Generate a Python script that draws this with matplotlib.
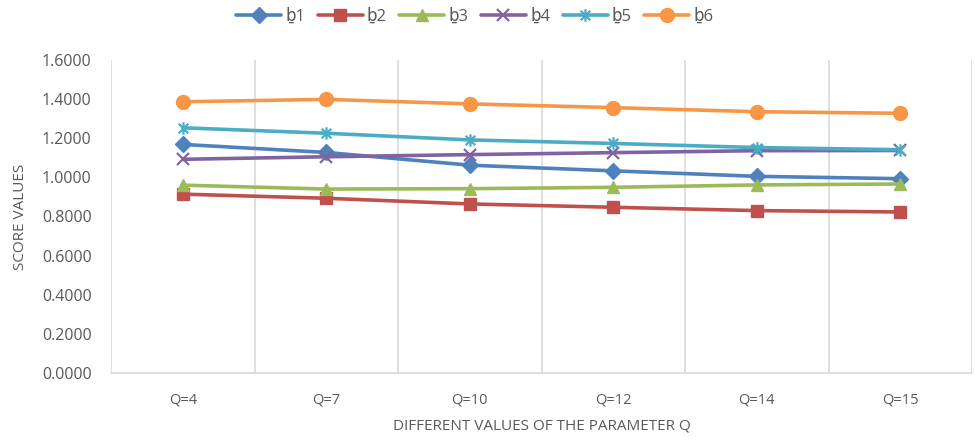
import numpy as np
import matplotlib.pyplot as plt
from matplotlib.path import Path

# Scores for each parameter setting
q_labels = ["Q=4", "Q=7", "Q=10", "Q=12", "Q=14", "Q=15"]
series_names = ["ḇ1", "ḇ2", "ḇ3", "ḇ4", "ḇ5", "ḇ6"]

b1 = [1.168, 1.127, 1.062, 1.033, 1.005, 0.993]
b2 = [0.914, 0.893, 0.864, 0.847, 0.830, 0.823]
b3 = [0.960, 0.940, 0.942, 0.949, 0.961, 0.966]
b4 = [1.092, 1.105, 1.116, 1.126, 1.136, 1.137]
b5 = [1.253, 1.225, 1.191, 1.173, 1.152, 1.141]
b6 = [1.386, 1.398, 1.375, 1.356, 1.335, 1.327]

# Excel-style star: an x with a vertical bar through it
star = Path([(-1, -1), (1, 1), (-1, 1), (1, -1), (0, -1.3), (0, 1.3)],
            [Path.MOVETO, Path.LINETO, Path.MOVETO, Path.LINETO, Path.MOVETO, Path.LINETO])

styles = [
    ("#4F81BD", "D", 8),
    ("#C0504D", "s", 8),
    ("#9BBB59", "^", 9),
    ("#8064A2", "x", 8),
    ("#4BACC6", star, 9),
    ("#F79646", "o", 10),
]

plt.rcParams['font.family'] = ['Open Sans', 'DejaVu Sans']
text_color = "#595959"
grid_color = "#D9D9D9"

fig = plt.figure(figsize=(9.75, 4.4), dpi=100)
ax = fig.add_axes([0.114, 0.152, 0.883, 0.712])

x = np.arange(len(q_labels))
for vals, name, (col, mk, ms) in zip([b1, b2, b3, b4, b5, b6], series_names, styles):
    open_marker = mk in ("x",) or mk is star
    ax.plot(x, vals, color=col, lw=2.6, marker=mk, markersize=ms,
            markerfacecolor='none' if open_marker else col,
            markeredgecolor=col, markeredgewidth=1.6 if open_marker else 1,
            label=name, solid_capstyle='round')

ax.set_xlim(-0.5, len(q_labels) - 0.5)
ax.set_ylim(0, 1.6)
ax.set_yticks(np.arange(0, 1.61, 0.2))
ax.set_yticklabels([f"{v:.4f}" for v in np.arange(0, 1.61, 0.2)])
ax.set_xticks(x)
ax.set_xticklabels(q_labels)

# vertical gridlines between categories
for b in np.arange(-0.5, len(q_labels), 1.0):
    ax.axvline(b, color=grid_color, lw=1.2, zorder=0)

for s in ["top", "right", "left"]:
    ax.spines[s].set_visible(False)
ax.spines["bottom"].set_color(grid_color)
ax.spines["bottom"].set_linewidth(1.2)

ax.tick_params(axis='x', length=0, pad=14, labelsize=10.5, labelcolor=text_color)
ax.tick_params(axis='y', length=0, pad=14, labelsize=11.5, labelcolor=text_color)

ax.set_xlabel("DIFFERENT VALUES OF THE PARAMETER Q", color=text_color, fontsize=11, labelpad=8)
ax.set_ylabel("SCORE VALUES", color=text_color, fontsize=11, labelpad=10)

leg = fig.legend(loc="upper center", bbox_to_anchor=(0.487, 1.015), ncol=6, frameon=False,
                 fontsize=12, handlelength=2.7, columnspacing=0.75, handletextpad=0.25)
for t in leg.get_texts():
    t.set_color(text_color)

fig.savefig("out.png", dpi=100)
